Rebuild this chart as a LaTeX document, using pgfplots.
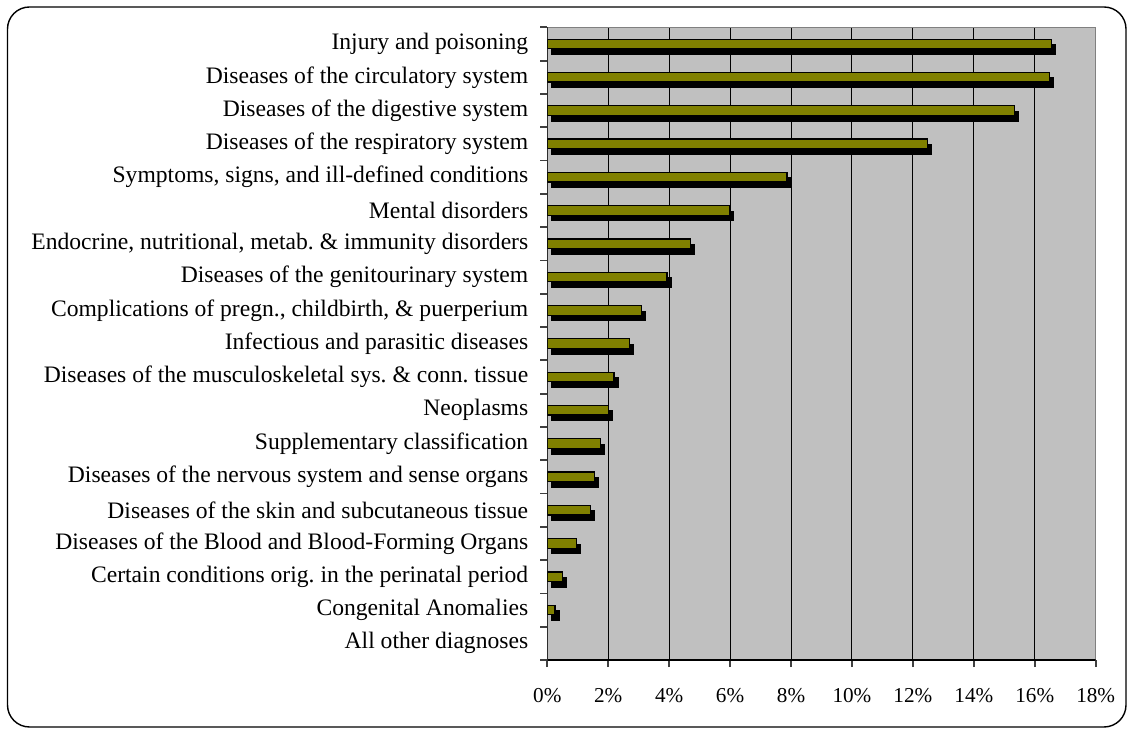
\documentclass[border=0pt]{standalone}
\usepackage{fontspec}
\setmainfont{Liberation Serif}
\usepackage{pgfplots}
\pgfplotsset{compat=1.18}
\definecolor{olivebar}{HTML}{808000}
\definecolor{plotbg}{HTML}{C0C0C0}
\begin{document}
\begin{tikzpicture}
\useasboundingbox (0,0) rectangle (565pt,366.5pt);
\draw[line width=0.7pt, rounded corners=11pt] (3.75pt,3pt) rectangle (563pt,363pt);
\begin{axis}[
  at={(273.65pt,36.5pt)}, anchor=south west,
  scale only axis, width=274.2pt, height=316.35pt,
  xbar, bar width=0.29,
  xmin=0, xmax=18, ymin=-0.5, ymax=18.5, y dir=reverse,
  xtick={0,2,4,6,8,10,12,14,16,18},
  xticklabels={0\%,2\%,4\%,6\%,8\%,10\%,12\%,14\%,16\%,18\%},
  minor xtick={0,2,4,6,8,10,12,14,16,18},
  ytick={0,1,2,3,4,5,6,7,8,9,10,11,12,13,14,15,16,17,18},
  minor ytick={-0.5,0.5,1.5,2.5,3.5,4.5,5.5,6.5,7.5,8.5,9.5,10.5,11.5,12.5,13.5,14.5,15.5,16.5,17.5,18.5},
  yticklabels={Injury and poisoning\ ,
    Diseases of the circulatory system,
    Diseases of the digestive system,
    Diseases of the respiratory system,
    {Symptoms, signs, and ill-defined conditions},
    Mental disorders,
    {Endocrine, nutritional, metab.\ \& immunity disorders},
    Diseases of the genitourinary system,
    {Complications of pregn., childbirth, \& puerperium},
    Infectious and parasitic diseases,
    Diseases of the musculoskeletal sys.\ \& conn.\ tissue,
    Neoplasms,
    Supplementary classification,
    Diseases of the nervous system and sense organs,
    Diseases of the skin and subcutaneous tissue,
    Diseases of the Blood and Blood-Forming Organs,
    Certain conditions orig.\ in the perinatal period,
    Congenital Anomalies,
    All other diagnoses},
  major tick length=0pt, minor tick length=3.5pt,
  tick align=outside, tick pos=left,
  every minor tick/.style={black!75, line width=0.9pt},
  xmajorgrids, major grid style={black, line width=0.5pt},
  axis background/.style={fill=plotbg},
  axis line style={draw=gray, line width=0.6pt},
  yticklabel style={font=\fontsize{11.8}{13}\selectfont, xshift=-6pt},
  xticklabel style={font=\fontsize{10.6}{12}\selectfont, yshift=-10.5pt},
]
\addplot[bar shift=0pt, fill=black, draw=black, line width=0.6pt, xshift=2pt, yshift=-2.8pt] coordinates {
(16.55,0) (16.49,1) (15.33,2) (12.47,3) (7.87,4) (5.98,5) (4.71,6) (3.93,7) (3.10,8) (2.71,9)
(2.19,10) (2.00,11) (1.75,12) (1.55,13) (1.42,14) (0.96,15) (0.51,16) (0.25,17)};
\addplot[bar shift=0pt, fill=olivebar, draw=black, line width=0.6pt] coordinates {
(16.55,0) (16.49,1) (15.33,2) (12.47,3) (7.87,4) (5.98,5) (4.71,6) (3.93,7) (3.10,8) (2.71,9)
(2.19,10) (2.00,11) (1.75,12) (1.55,13) (1.42,14) (0.96,15) (0.51,16) (0.25,17)};
\draw[black, line width=0.7pt] (axis description cs:0,1) -- (axis description cs:0,0) -- (axis description cs:1,0);
\end{axis}
\end{tikzpicture}
\end{document}
